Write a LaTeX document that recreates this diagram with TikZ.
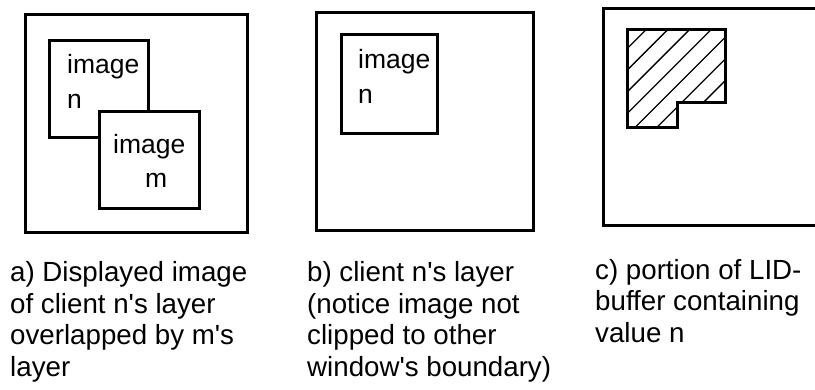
\documentclass[tikz,border=0pt]{standalone}
\usepackage{fontspec}
\setmainfont{Liberation Sans}[Ligatures=TeXOff]
\begin{document}
\begin{tikzpicture}[x=1pt,y=-1pt,
  frame/.style={draw=black, line width=3pt},
  imgbox/.style={draw=black, line width=3pt, fill=white},
  lbl/.style={anchor=base west, inner sep=0pt, font=\fontsize{26.5}{31}\selectfont},
  captext/.style={anchor=base west, inner sep=0pt, font=\fontsize{27.7}{31}\selectfont},
  hatchline/.style={line width=1.3pt}]
\useasboundingbox (0,0) rectangle (815,389);

% ---- panel a ----
\draw[frame] (25,14) rectangle (247,232);
\draw[imgbox] (49,40) rectangle (148,137);
\node[lbl] (an1) at (67,73) {image};
\node[lbl] (an2) at (67,108) {n};
\draw[imgbox] (99,111) rectangle (199,208);
\node[lbl] (am1) at (113,153) {image};
\node[lbl] (am2) at (145,187) {m};

% ---- panel b ----
\draw[frame] (316,12) rectangle (533,230);
\draw[imgbox] (341,34) rectangle (437,133);
\node[lbl] (bn1) at (358,68) {image};
\node[lbl] (bn2) at (358,103) {n};

% ---- panel c ----
\draw[frame] (817,8) -- (603,8) -- (603,225) -- (817,225);
\begin{scope}
  \clip (627,29) -- (725,29) -- (725,102) -- (677,102) -- (677,127) -- (627,127) -- cycle;
  \foreach \k in {0,...,7} {
    \pgfmathsetmacro{\c}{675.7+21.7*\k}
    \draw[hatchline] (\c-10,10) -- (\c-150,150);
  }
\end{scope}
\draw[frame] (627,29) -- (725,29) -- (725,102) -- (677,102) -- (677,127) -- (627,127) -- cycle;

% ---- captions ----
\node[captext] (ca1) at (10,281.5) {a) Displayed image};
\node[captext] (ca2) at (10,313) {of client n's layer};
\node[captext] (ca3) at (10,344.5) {overlapped by m's};
\node[captext] (ca4) at (10,376) {layer};

\node[captext] (cb1) at (307,281.5) {b) client n's layer};
\node[captext] (cb2) at (307,313) {(notice image not};
\node[captext] (cb3) at (307,344.5) {clipped to other};
\node[captext] (cb4) at (307,376) {window's boundary)};

\node[captext] (cc1) at (595,279) {c) portion of LID-};
\node[captext] (cc2) at (595,310.5) {buffer containing};
\node[captext] (cc3) at (595,342) {value n};
\end{tikzpicture}
\end{document}
